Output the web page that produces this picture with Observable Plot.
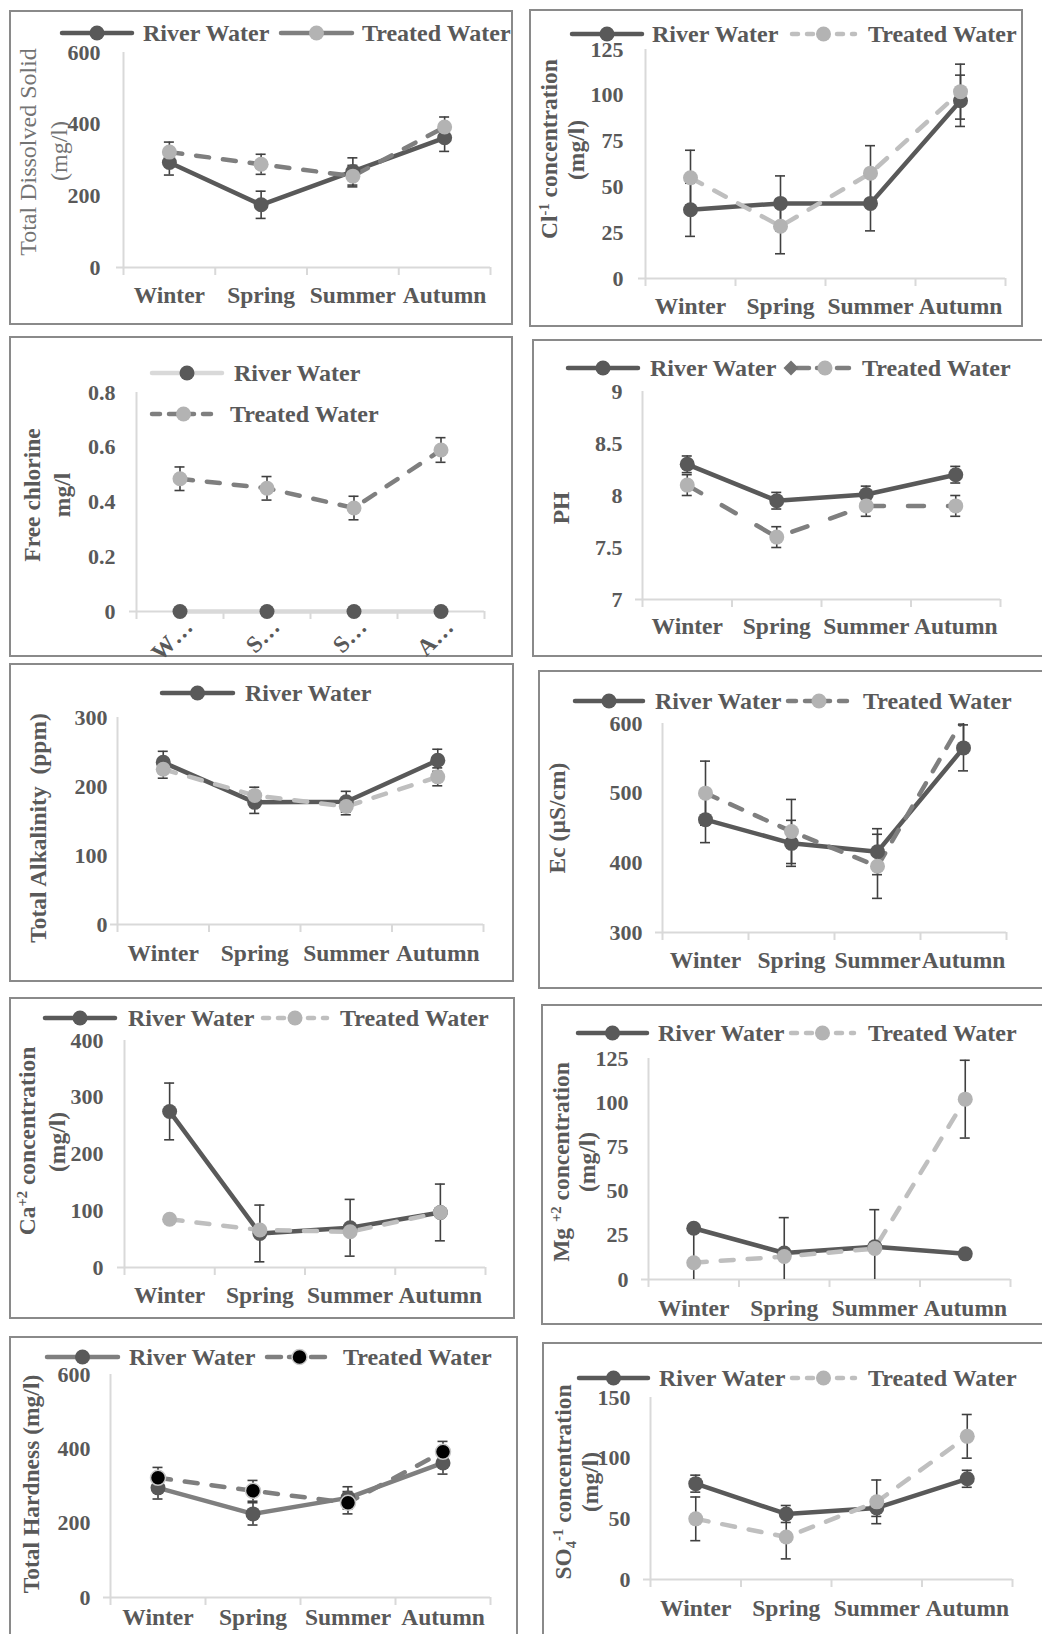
<!DOCTYPE html>
<html>
<head>
<meta charset="utf-8">
<script src="https://cdn.jsdelivr.net/npm/d3@7"></script>
<script src="https://cdn.jsdelivr.net/npm/@observablehq/plot@0.6"></script>
<style>
html,body{margin:0;padding:0;background:#fff;overflow:hidden;}
#page{position:relative;width:1042px;height:1634px;overflow:hidden;background:#fff;font-family:'Liberation Serif','Times New Roman',serif;color:#595959;}
.panel{position:absolute;border:2px solid #8a8a8a;box-sizing:border-box;background:#fff;}
.lbl{position:absolute;white-space:nowrap;font-weight:bold;font-size:24px;line-height:1;transform:translateY(-50%);}
.ytitle{position:absolute;white-space:nowrap;font-size:23.5px;line-height:1;transform:translate(-50%,-50%) rotate(-90deg);}
.ytitle sup{font-size:0.62em;vertical-align:0.55em;line-height:0;}
.ytitle sub{font-size:0.62em;vertical-align:-0.3em;line-height:0;}
</style>
</head>
<body>
<div id="page"></div>
<script>
// ---------------- DATA ----------------
const seasons = ["Winter", "Spring", "Summer", "Autumn"];
const seasonsShort = ["W…", "S…", "S…", "A…"];
const seriesNames = ["River Water", "Treated Water"];

const tdsTicks = [0, 200, 400, 600];
const tdsRiver = [293, 175, 268, 362];
const tdsRiverErr = [35, 38, 38, 38];
const tdsTreated = [322, 288, 255, 392];
const tdsTreatedErr = [28, 28, 30, 28];

const clTicks = [0, 25, 50, 75, 100, 125];
const clRiver = [37.5, 41, 41, 97];
const clRiverErr = [14.5, 15, 15, 14];
const clTreated = [55, 28.5, 57.5, 102];
const clTreatedErr = [15, 15, 15, 15];

const fcTicks = [0, 0.2, 0.4, 0.6, 0.8];
const fcRiver = [0, 0, 0, 0];
const fcTreated = [0.485, 0.45, 0.378, 0.59];
const fcTreatedErr = [0.043, 0.043, 0.043, 0.045];

const phTicks = [7, 7.5, 8, 8.5, 9];
const phRiver = [8.3, 7.95, 8.01, 8.2];
const phRiverErr = [0.08, 0.08, 0.08, 0.08];
const phTreated = [8.1, 7.6, 7.9, 7.9];
const phTreatedErr = [0.1, 0.1, 0.1, 0.1];

const alkTicks = [0, 100, 200, 300];
const alkRiver = [235, 177, 178, 238];
const alkRiverErr = [16, 16, 15, 16];
const alkTreated = [225, 187, 171, 214];
const alkTreatedErr = [13, 12, 12, 13];

const ecTicks = [300, 400, 500, 600];
const ecRiver = [462, 428, 416, 565];
const ecRiverErr = [33, 33, 33, 33];
const ecTreated = [500, 445, 395, 607];
const ecTreatedErr = [46, 46, 46, 46];

const caTicks = [0, 100, 200, 300, 400];
const caRiver = [275, 60, 70, 97];
const caRiverErr = [50, 50, 50, 50];
const caTreated = [85, 66, 63, 97];

const mgTicks = [0, 25, 50, 75, 100, 125];
const mgRiver = [29, 15, 18.5, 14.5];
const mgTreated = [9.5, 13, 17.5, 102];
const mgTreatedErr = [20, 22, 22, 22];

const hardTicks = [0, 200, 400, 600];
const hardRiver = [295, 225, 268, 362];
const hardRiverErr = [30, 30, 30, 30];
const hardTreated = [322, 287, 255, 392];
const hardTreatedErr = [28, 28, 30, 28];

const so4Ticks = [0, 50, 100, 150];
const so4River = [79, 54, 59, 83];
const so4RiverErr = [7, 7, 7, 7];
const so4Treated = [50, 35, 64, 118];
const so4TreatedErr = [18, 18, 18, 18];

// ---------------- STYLE ----------------
const AXIS = "#d9d9d9", TEXT = "#595959", DARK = "#595959", MID = "#7f7f7f",
      LIGHT = "#bfbfbf", LDOT = "#b3b3b3", PALE = "#d9d9d9", ERR = "#404040";
const DASH = "13,14", DASH_PH = "16,24";

const riverDark = {stroke: DARK, fill: DARK};

const panels = [
  { box:[9,10,513,325], x0:123, x4:490, yTop:52, yBot:267, domain:[0,600], ticks:tdsTicks, gap:23, xLabels:seasons, xLabelY:295,
    series:[{v:tdsRiver,e:tdsRiverErr,...riverDark},{v:tdsTreated,e:tdsTreatedErr,stroke:MID,fill:LDOT,dash:DASH}],
    legend:[{y:33,x1:62,x2:132,tx:143,s:0},{y:33,x1:281,x2:352,tx:362,s:1,dash:"none"}],
    titles:[{html:"Total Dissolved Solid",cx:28,cy:152,bold:false,color:"#737373"},{html:"(mg/l)",cx:59,cy:151,bold:false,color:"#737373"}] },
  { box:[529,9,1023,327], x0:645, x4:1005, yTop:49, yBot:278, domain:[0,125], ticks:clTicks, gap:22, xLabels:seasons, xLabelY:306,
    series:[{v:clRiver,e:clRiverErr,...riverDark},{v:clTreated,e:clTreatedErr,stroke:LIGHT,fill:LDOT,dash:DASH}],
    legend:[{y:34,x1:572,x2:642,tx:652,s:0},{y:34,x1:792,x2:855,tx:868,s:1,dash:"6,9"}],
    titles:[{html:"Cl<sup>-1</sup> concentration",cx:550,cy:149,bold:true},{html:"(mg/l)",cx:577,cy:150,bold:true}] },
  { box:[9,336,513,657], x0:136, x4:484, yTop:392, yBot:611, domain:[0,0.8], ticks:fcTicks, gap:21, xLabels:seasonsShort, xLabelY:628, rotate:-45, xdx:14,
    series:[{v:fcRiver,e:null,stroke:PALE,fill:DARK},{v:fcTreated,e:fcTreatedErr,stroke:MID,fill:LDOT,dash:DASH}],
    legend:[{y:373,x1:152,x2:222,tx:234,s:0},{y:414,x1:152,x2:215,tx:230,s:1,dash:"8,9"}],
    titles:[{html:"Free chlorine",cx:33,cy:495,bold:true},{html:"mg/l",cx:63,cy:495,bold:true}] },
  { box:[532,339,1048,657], x0:642, x4:1000, yTop:391, yBot:599, domain:[7,9], ticks:phTicks, gap:20, xLabels:seasons, xLabelY:626,
    series:[{v:phRiver,e:phRiverErr,...riverDark},{v:phTreated,e:phTreatedErr,stroke:MID,fill:LDOT,dash:DASH_PH}],
    legend:[{y:368,x1:568,x2:638,tx:650,s:0},{y:368,x1:797,x2:853,tx:862,s:1,dash:"12,8",diamond:791}],
    titles:[{html:"PH",cx:562,cy:508,bold:true}] },
  { box:[9,663,514,982], x0:117, x4:483, yTop:717, yBot:924, domain:[0,300], ticks:alkTicks, gap:10, xLabels:seasons, xLabelY:953,
    series:[{v:alkRiver,e:alkRiverErr,...riverDark},{v:alkTreated,e:alkTreatedErr,stroke:LIGHT,fill:LDOT,dash:DASH}],
    legend:[{y:693,x1:162,x2:233,tx:245,s:0}],
    titles:[{html:"Total Alkalinity&nbsp; (ppm)",cx:39,cy:828,bold:true}] },
  { box:[538,670,1048,989], x0:662, x4:1006, yTop:723, yBot:932, domain:[300,600], ticks:ecTicks, gap:20, xLabels:seasons, xLabelY:960, clip:true,
    series:[{v:ecRiver,e:ecRiverErr,...riverDark},{v:ecTreated,e:ecTreatedErr,stroke:MID,fill:LDOT,dash:DASH}],
    legend:[{y:701,x1:575,x2:643,tx:655,s:0},{y:701,x1:788,x2:850,tx:863,s:1,dash:"8,9"}],
    titles:[{html:"Ec (µS/cm)",cx:558,cy:818,bold:true}] },
  { box:[9,997,515,1319], x0:124, x4:485, yTop:1040, yBot:1267, domain:[0,400], ticks:caTicks, gap:21, xLabels:seasons, xLabelY:1295,
    series:[{v:caRiver,e:caRiverErr,...riverDark},{v:caTreated,e:null,stroke:LIGHT,fill:LDOT,dash:DASH}],
    legend:[{y:1018,x1:45,x2:115,tx:128,s:0},{y:1018,x1:263,x2:327,tx:340,s:1,dash:"6,9"}],
    titles:[{html:"Ca<sup>+2</sup> concentration",cx:28,cy:1141,bold:true},{html:"(mg/l)",cx:58,cy:1142,bold:true}] },
  { box:[541,1004,1048,1325], x0:648, x4:1010, yTop:1058, yBot:1279, domain:[0,125], ticks:mgTicks, gap:20, xLabels:seasons, xLabelY:1308, clip:true,
    series:[{v:mgRiver,e:null,...riverDark},{v:mgTreated,e:mgTreatedErr,stroke:LIGHT,fill:LDOT,dash:DASH}],
    legend:[{y:1033,x1:578,x2:647,tx:658,s:0},{y:1033,x1:791,x2:854,tx:868,s:1,dash:"6,9"}],
    titles:[{html:"Mg <sup>+2</sup> concentration",cx:562,cy:1162,bold:true},{html:"(mg/l)",cx:588,cy:1162,bold:true}] },
  { box:[9,1336,518,1650], x0:110, x4:490, yTop:1374, yBot:1597, domain:[0,600], ticks:hardTicks, gap:20, xLabels:seasons, xLabelY:1617,
    series:[{v:hardRiver,e:hardRiverErr,stroke:MID,fill:DARK},{v:hardTreated,e:hardTreatedErr,stroke:MID,fill:"#000000",dotStroke:"#c8c8c8",dash:DASH}],
    legend:[{y:1357,x1:47,x2:118,tx:129,s:0},{y:1357,x1:267,x2:332,tx:343,s:1,dash:"14,8"}],
    titles:[{html:"Total Hardness (mg/l)",cx:32,cy:1484,bold:true}] },
  { box:[542,1342,1048,1650], x0:650, x4:1012, yTop:1397, yBot:1579, domain:[0,150], ticks:so4Ticks, gap:20, xLabels:seasons, xLabelY:1608,
    series:[{v:so4River,e:so4RiverErr,...riverDark},{v:so4Treated,e:so4TreatedErr,stroke:LIGHT,fill:LDOT,dash:DASH}],
    legend:[{y:1378,x1:579,x2:648,tx:659,s:0},{y:1378,x1:792,x2:855,tx:868,s:1,dash:"6,9"}],
    titles:[{html:"SO<sub>4</sub><sup>-1</sup> concentration",cx:564,cy:1482,bold:true},{html:"(mg/l)",cx:591,cy:1482,bold:true}] }
];

// ---------------- DRAW ----------------
const page = document.getElementById("page");

function rowsOf(values, errors) {
  return values.map((v, i) => ({x: i + 0.5, season: seasons[i], v, e: errors ? errors[i] : 0}));
}

function makePlot(p) {
  const mL = 90, mR = 14, mT = 14, mB = 80;
  const ymin = p.domain[0], ymax = p.domain[1];
  const clip = !!p.clip;
  const marks = [
    Plot.ruleY([ymin], {y: d => d, stroke: AXIS, strokeWidth: 2, insetLeft: -7}),
    Plot.ruleX([0, 1, 2, 3, 4], {x: d => d, y1: () => ymin, y2: () => ymin, insetBottom: -8, stroke: AXIS, strokeWidth: 2}),
    Plot.ruleX([0], {x: d => d, stroke: AXIS, strokeWidth: 2}),
    Plot.text(p.ticks, {y: d => d, frameAnchor: "left", dx: -p.gap, textAnchor: "end", lineAnchor: "middle",
      text: d => String(d), fontSize: 22, fontWeight: "bold", fill: TEXT}),
    Plot.text(p.xLabels, {x: (d, i) => i + 0.5, frameAnchor: "bottom", dx: p.xdx || 0, dy: p.xLabelY - p.yBot,
      text: d => d, fontSize: 23.5, fontWeight: "bold", fill: TEXT, rotate: p.rotate || 0,
      textAnchor: p.rotate ? "end" : "middle", lineAnchor: p.rotate ? "bottom" : "middle"})
  ];
  const sets = p.series.map(s => ({s, rows: rowsOf(s.v, s.e)}));
  sets.forEach(({s, rows}) => {
    marks.push(Plot.line(rows, {x: "x", y: "v", stroke: s.stroke, strokeWidth: 4.5,
      strokeDasharray: s.dash || null, strokeLinecap: "round", strokeLinejoin: "round", clip}));
  });
  sets.forEach(({s, rows}) => {
    if (!s.e) return;
    marks.push(Plot.ruleX(rows, {x: "x", y1: d => d.v - d.e, y2: d => d.v + d.e, stroke: ERR, strokeWidth: 1.6, clip}));
    marks.push(Plot.ruleY(rows, {y: d => d.v + d.e, x1: "x", x2: "x", insetLeft: -5, insetRight: -5, stroke: ERR, strokeWidth: 1.6, clip}));
    marks.push(Plot.ruleY(rows, {y: d => d.v - d.e, x1: "x", x2: "x", insetLeft: -5, insetRight: -5, stroke: ERR, strokeWidth: 1.6, clip}));
  });
  sets.forEach(({s, rows}) => {
    marks.push(Plot.dot(rows, {x: "x", y: "v", r: 7.5, fill: s.fill, stroke: s.dotStroke || "none", strokeWidth: 1.5,
      filter: d => d.v >= ymin && d.v <= ymax}));
  });
  const svg = Plot.plot({
    width: p.x4 - p.x0 + mL + mR,
    height: p.yBot - p.yTop + mT + mB,
    marginLeft: mL, marginRight: mR, marginTop: mT, marginBottom: mB,
    x: {domain: [0, 4], axis: null},
    y: {domain: p.domain, axis: null},
    style: {fontFamily: "'Liberation Serif','Times New Roman',serif", fontWeight: "bold", fontSize: "22px",
      color: TEXT, background: "transparent", overflow: "visible"},
    marks
  });
  svg.style.position = "absolute";
  svg.style.left = (p.x0 - mL) + "px";
  svg.style.top = (p.yTop - mT) + "px";
  return svg;
}

// panel boxes
panels.forEach(p => {
  const [l, t, r, b] = p.box;
  const d = document.createElement("div");
  d.className = "panel";
  d.style.left = l + "px"; d.style.top = t + "px";
  d.style.width = (r - l) + "px"; d.style.height = (b - t) + "px";
  page.appendChild(d);
});

// plots
panels.forEach(p => page.appendChild(makePlot(p)));

// legend swatches
const overlay = d3.create("svg")
  .attr("width", 1042).attr("height", 1634)
  .style("position", "absolute").style("left", "0px").style("top", "0px").style("pointer-events", "none");
panels.forEach(p => {
  p.legend.forEach(it => {
    const s = p.series[it.s];
    const dash = it.dash !== undefined ? it.dash : (s.dash || "none");
    overlay.append("line")
      .attr("x1", it.x1).attr("x2", it.x2).attr("y1", it.y).attr("y2", it.y)
      .attr("stroke", s.stroke).attr("stroke-width", 4.5).attr("stroke-linecap", "round")
      .attr("stroke-dasharray", dash);
    if (it.diamond) {
      const x = it.diamond, y = it.y, h = 7.5;
      overlay.append("path")
        .attr("d", `M${x - h},${y}L${x},${y - h}L${x + h},${y}L${x},${y + h}Z`)
        .attr("fill", "#737373");
    }
    overlay.append("circle")
      .attr("cx", (it.x1 + it.x2) / 2).attr("cy", it.y).attr("r", 7.5)
      .attr("fill", s.fill).attr("stroke", s.dotStroke || "none").attr("stroke-width", 1.5);
    const t = document.createElement("div");
    t.className = "lbl";
    t.style.left = it.tx + "px"; t.style.top = it.y + "px";
    t.textContent = seriesNames[it.s];
    page.appendChild(t);
  });
});
page.appendChild(overlay.node());

// y-axis titles
panels.forEach(p => {
  p.titles.forEach(tt => {
    const d = document.createElement("div");
    d.className = "ytitle";
    d.style.left = tt.cx + "px"; d.style.top = tt.cy + "px";
    d.style.fontWeight = tt.bold ? "bold" : "normal";
    d.style.color = tt.color || TEXT;
    if (!tt.bold) d.style.fontSize = "24px";
    d.innerHTML = tt.html;
    page.appendChild(d);
  });
});
</script>
</body>
</html>
